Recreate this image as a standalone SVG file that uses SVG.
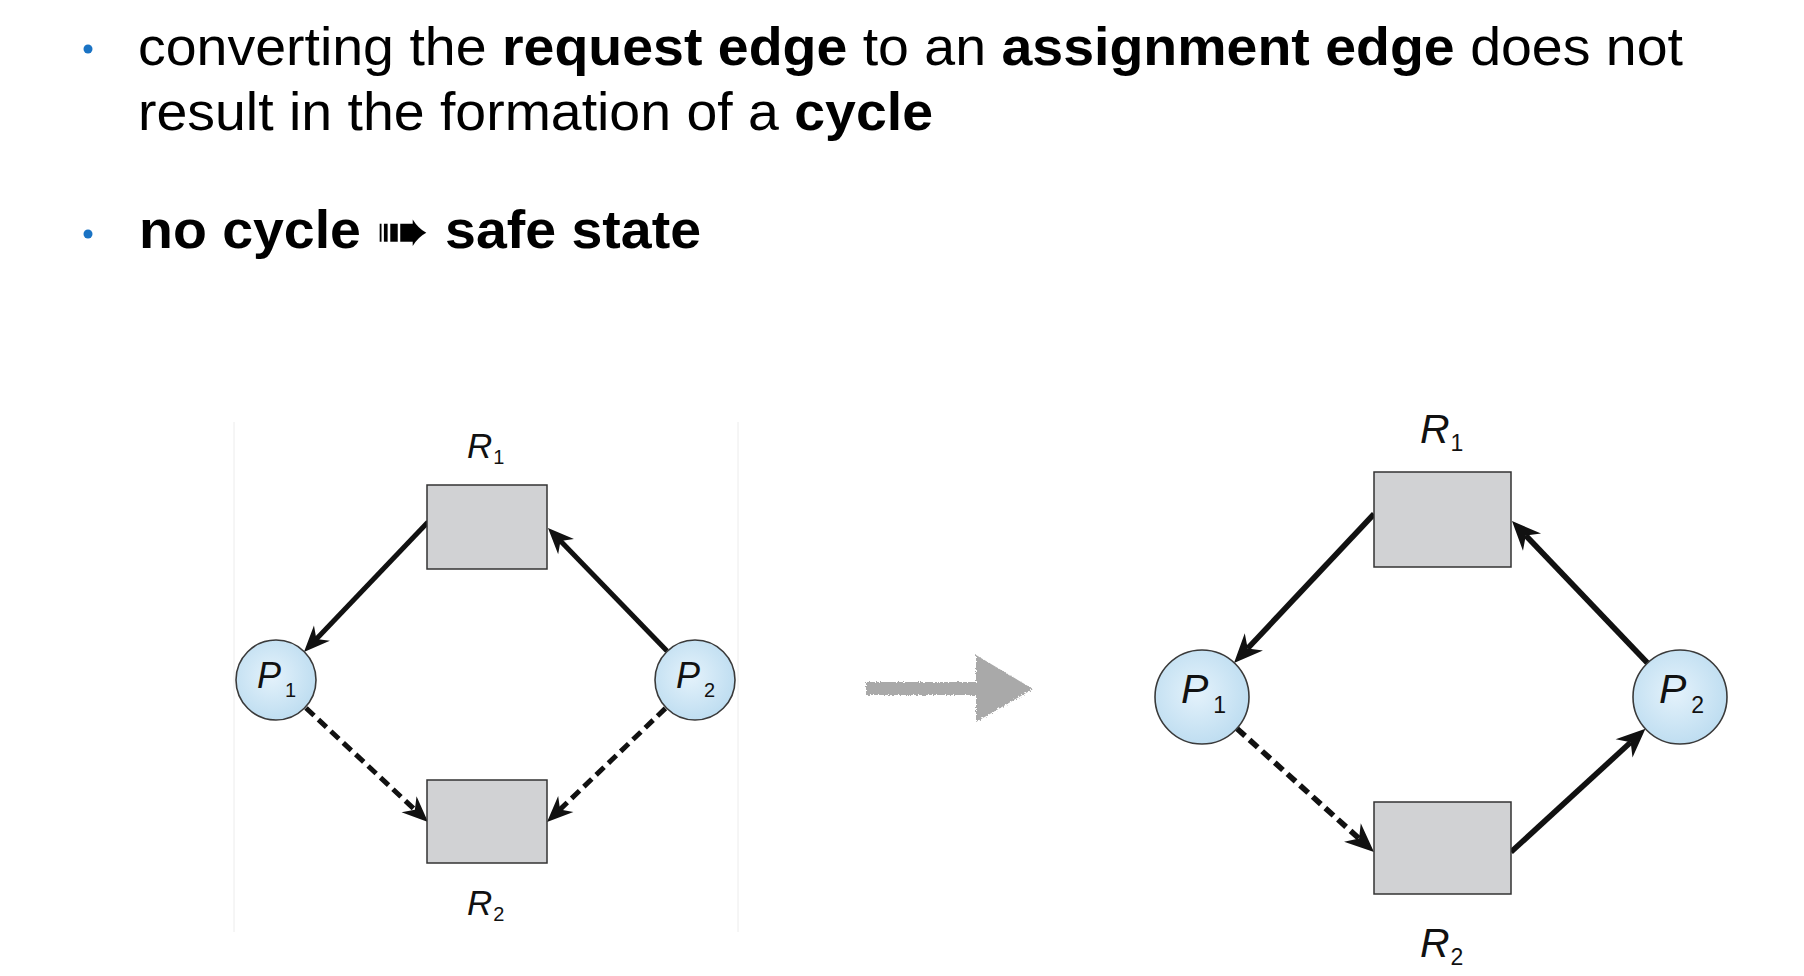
<svg xmlns="http://www.w3.org/2000/svg" width="1804" height="976" viewBox="0 0 1804 976">
<style>
.txt{font-family:"Liberation Sans",Arial,sans-serif;fill:#000}
.b{font-weight:bold}
.bullet{fill:#1a73c4}
.res{fill:#d1d2d4;stroke:#333;stroke-width:1.5}
.proc{fill:url(#pg);stroke:#3a3a3a;stroke-width:1.6}
.lab{font-family:"Liberation Sans",Arial,sans-serif;font-style:italic;fill:#111}
.sub{font-style:normal}
.eL{stroke:#111;stroke-width:5;fill:none}
.eR{stroke:#111;stroke-width:5.6;fill:none}
.dash{stroke-dasharray:11 6}
.frame{stroke:#ececec;stroke-width:1}
</style>
<defs>
<radialGradient id="pg" cx="0.45" cy="0.45" r="0.6">
<stop offset="0" stop-color="#e4f2fb"/>
<stop offset="1" stop-color="#bcdcf0"/>
</radialGradient>
<marker id="aL" markerUnits="userSpaceOnUse" markerWidth="27" markerHeight="23" refX="9" refY="11" orient="auto" overflow="visible">
<path d="M0,0 L26,11 L0,22 L8,11 z" fill="#111"/>
</marker>
<marker id="aR" markerUnits="userSpaceOnUse" markerWidth="30" markerHeight="26" refX="9" refY="12.5" orient="auto" overflow="visible">
<path d="M0,0 L29,12.5 L0,25 L9,12.5 z" fill="#111"/>
</marker>
<filter id="rough" x="-10%" y="-20%" width="120%" height="140%">
<feTurbulence type="fractalNoise" baseFrequency="0.6" numOctaves="2" seed="3"/>
<feDisplacementMap in="SourceGraphic" scale="4"/>
</filter>
</defs>

<g id="text">
<circle class="bullet" cx="88" cy="49" r="4.5"/>
<text class="txt" x="138" y="65" font-size="54" textLength="1545" lengthAdjust="spacingAndGlyphs">converting the <tspan class="b">request edge</tspan> to an <tspan class="b">assignment edge</tspan> does not</text>
<text class="txt" x="138" y="130" font-size="54" textLength="795" lengthAdjust="spacingAndGlyphs">result in the formation of a <tspan class="b">cycle</tspan></text>
<circle class="bullet" cx="88" cy="234" r="4.5"/>
<text class="txt b" x="139" y="248" font-size="54" textLength="562" lengthAdjust="spacingAndGlyphs">no cycle <tspan font-family="'DejaVu Sans',sans-serif" font-size="62" dy="4">➠</tspan><tspan dy="-4"> safe state</tspan></text>
</g>

<g id="left-frame">
<line class="frame" x1="234" y1="422" x2="234" y2="932"/>
<line class="frame" x1="738" y1="422" x2="738" y2="932"/>
</g>

<g id="connectors">
<line class="eL" x1="428" y1="522" x2="315.7" y2="639.7" marker-end="url(#aL)"/>
<line class="eL" x1="667" y1="651" x2="559.8" y2="540.2" marker-end="url(#aL)"/>
<line class="eL dash" x1="306" y1="708" x2="415.6" y2="810.4" marker-end="url(#aL)"/>
<line class="eL dash" x1="665.4" y1="708.4" x2="559.3" y2="810.2" marker-end="url(#aL)"/>

<line class="eR" x1="1374" y1="514" x2="1247.7" y2="648.4" marker-end="url(#aR)"/>
<line class="eR" x1="1647.5" y1="663" x2="1525.8" y2="535.5" marker-end="url(#aR)"/>
<line class="eR dash" x1="1236.9" y1="728.5" x2="1359.1" y2="838.6" marker-end="url(#aR)"/>
<line class="eR" x1="1511" y1="852" x2="1630.7" y2="742.3" marker-end="url(#aR)"/>
</g>

<g id="L-R1">
<rect class="res" x="427" y="485" width="120" height="84"/>
<text class="lab" x="467" y="458" font-size="35">R<tspan class="sub" font-size="20" dx="1" dy="6">1</tspan></text>
</g>
<g id="L-R2">
<rect class="res" x="427" y="780" width="120" height="83"/>
<text class="lab" x="467" y="915" font-size="35">R<tspan class="sub" font-size="20" dx="1" dy="6">2</tspan></text>
</g>
<g id="L-P1">
<circle class="proc" cx="276" cy="680" r="40"/>
<text class="lab" x="257" y="688" font-size="36">P<tspan class="sub" font-size="20" dx="4" dy="9">1</tspan></text>
</g>
<g id="L-P2">
<circle class="proc" cx="695" cy="680" r="40"/>
<text class="lab" x="676" y="688" font-size="36">P<tspan class="sub" font-size="20" dx="4" dy="9">2</tspan></text>
</g>

<g id="transition-arrow" filter="url(#rough)">
<rect x="866" y="682" width="114" height="13" fill="#a9a9a9"/>
<polygon points="976,655 1033,689 976,722" fill="#a9a9a9"/>
</g>

<g id="R-R1">
<rect class="res" x="1374" y="472" width="137" height="95"/>
<text class="lab" x="1420" y="443" font-size="41">R<tspan class="sub" font-size="23" dx="1" dy="8">1</tspan></text>
</g>
<g id="R-R2">
<rect class="res" x="1374" y="802" width="137" height="92"/>
<text class="lab" x="1420" y="957" font-size="41">R<tspan class="sub" font-size="23" dx="1" dy="8">2</tspan></text>
</g>
<g id="R-P1">
<circle class="proc" cx="1202" cy="697" r="47"/>
<text class="lab" x="1181" y="703" font-size="41">P<tspan class="sub" font-size="23" dx="5" dy="10">1</tspan></text>
</g>
<g id="R-P2">
<circle class="proc" cx="1680" cy="697" r="47"/>
<text class="lab" x="1659" y="703" font-size="41">P<tspan class="sub" font-size="23" dx="5" dy="10">2</tspan></text>
</g>
</svg>
